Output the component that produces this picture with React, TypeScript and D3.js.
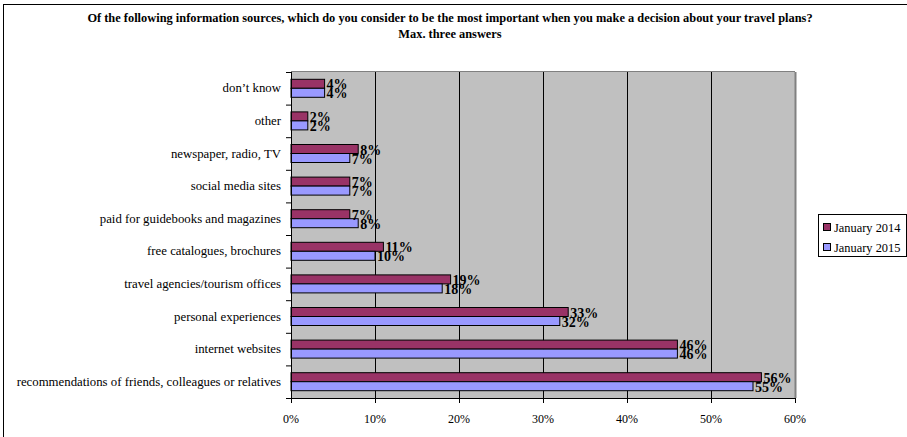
import React from "react";
import * as d3 from "d3";

const categories = [
  "don’t know",
  "other",
  "newspaper, radio, TV",
  "social media sites",
  "paid for guidebooks and magazines",
  "free catalogues, brochures",
  "travel agencies/tourism offices",
  "personal experiences",
  "internet websites",
  "recommendations of friends, colleagues or relatives",
];
const jan2014 = [4, 2, 8, 7, 7, 11, 19, 33, 46, 56];
const jan2015 = [4, 2, 7, 7, 8, 10, 18, 32, 46, 55];
const seriesNames = ["January 2014", "January 2015"];
const seriesColors = ["#993366", "#9999FF"];
const xTicks = [0, 10, 20, 30, 40, 50, 60];
const titleLines = [
  "Of the following information sources, which do you consider to be the most important when you make a decision about your travel plans?",
  "Max. three answers",
];

const W = 907;
const H = 437;
const font = "Liberation Serif, Times New Roman, DejaVu Serif, serif";
const ts: React.CSSProperties = { fontFamily: font };

export default function App() {
  const left = 291, right = 795, top = 72, bottom = 398;
  const x = d3.scaleLinear().domain([0, 60]).range([left, right]);
  const y = d3.scaleBand().domain(categories).range([top, bottom]).paddingInner(0).paddingOuter(0);
  const bw = y.bandwidth();
  const barH = 9;
  const series = [jan2014, jan2015];
  return (
    <svg width={W} height={H} style={{ position: "absolute", left: 0, top: 0, background: "#fff", fontFamily: font }}>
      <rect x={3.5} y={4.5} width={W} height={H} fill="#fff" stroke="#000" strokeWidth={1} />
      {titleLines.map((t, i) => (
        <text key={i} style={ts} x={450} y={22 + i * 16} textAnchor="middle" fontSize={12.4} fontWeight="bold">{t}</text>
      ))}
      <rect x={left} y={top} width={right - left} height={bottom - top} fill="#C0C0C0" />
      <line x1={left} x2={right} y1={top - 0.5} y2={top - 0.5} stroke="#808080" strokeWidth={1} />
      <line x1={right + 0.5} x2={right + 0.5} y1={top} y2={bottom} stroke="#808080" strokeWidth={2} />
      {xTicks.slice(1, -1).map((t) => (
        <line key={t} x1={x(t) + 0.5} x2={x(t) + 0.5} y1={top} y2={bottom} stroke="#000" strokeWidth={1} />
      ))}
      {categories.map((c, ci) => {
        const y0 = (y(c) as number) + (bw - 2 * barH) / 2;
        return (
          <g key={c}>
            {series.map((s, si) => (
              <rect key={si} x={left} y={y0 + si * barH} width={x(s[ci]) - left} height={barH}
                fill={seriesColors[si]} stroke="#000" strokeWidth={1} />
            ))}
            {series.map((s, si) => (
              <text key={"l" + si} style={ts} x={x(s[ci]) + 2} y={y0 + (si + 1) * barH + 1} fontSize={14} fontWeight="bold">{s[ci]}%</text>
            ))}
            <text style={ts} x={281} y={(y(c) as number) + bw / 2 + 4} textAnchor="end" fontSize={12.8}>{c}</text>
          </g>
        );
      })}
      <line x1={left + 0.5} x2={left + 0.5} y1={top} y2={bottom} stroke="#000" />
      <line x1={left} x2={right} y1={bottom + 0.5} y2={bottom + 0.5} stroke="#000" />
      {categories.map((c) => (
        <line key={"t" + c} x1={left - 5} x2={left} y1={(y(c) as number) + 0.5} y2={(y(c) as number) + 0.5} stroke="#000" />
      ))}
      <line x1={left - 5} x2={left} y1={bottom + 0.5} y2={bottom + 0.5} stroke="#000" />
      {xTicks.map((t) => (
        <g key={"x" + t}>
          <line x1={x(t) + 0.5} x2={x(t) + 0.5} y1={bottom} y2={bottom + 5} stroke="#000" />
          <text style={ts} x={x(t)} y={423} textAnchor="middle" fontSize={12}>{t}%</text>
        </g>
      ))}
      <rect x={818.5} y={214.5} width={88} height={42} fill="#fff" stroke="#000" />
      {seriesNames.map((n, i) => (
        <g key={n}>
          <rect x={823.5} y={223.5 + i * 20} width={7} height={7} fill={seriesColors[i]} stroke="#000" />
          <text style={ts} x={834} y={231.5 + i * 20} fontSize={12.4}>{n}</text>
        </g>
      ))}
    </svg>
  );
}
